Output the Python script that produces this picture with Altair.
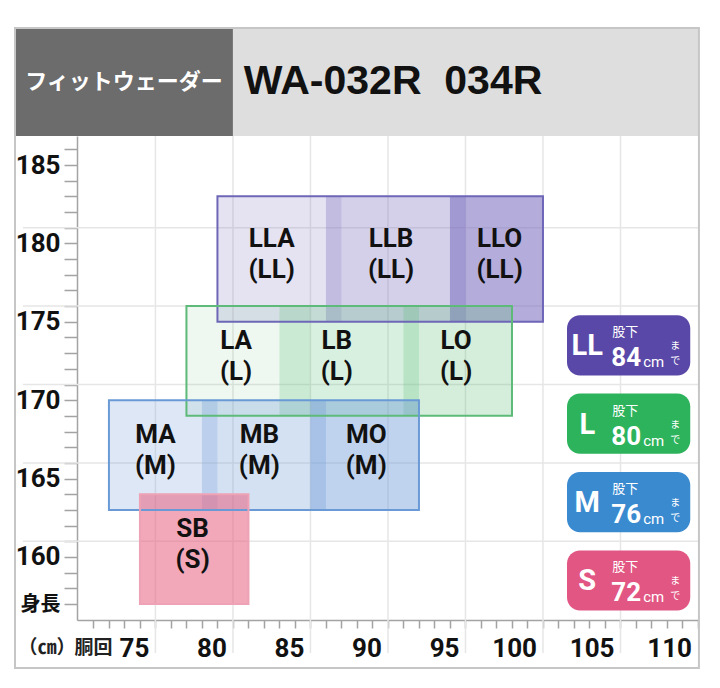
import altair as alt
import pandas as pd

# ---------------- data ----------------
GROUPS = ["LL", "L", "M", "S"]
GROUP_WAIST_MIN = [80, 78, 73, 75]
GROUP_WAIST_MAX = [101, 99, 93, 82]
GROUP_HEIGHT_MIN = [175, 169, 163, 157]
GROUP_HEIGHT_MAX = [183, 176, 170, 164]

CELLS = ["LLA", "LLB", "LLO", "LA", "LB", "LO", "MA", "MB", "MO", "SB"]
CELL_GROUP = ["LL", "LL", "LL", "L", "L", "L", "M", "M", "M", "S"]
CELL_WAIST_MIN = [80, 87, 95, 78, 84, 92, 73, 79, 86, 75]
CELL_WAIST_MAX = [88, 96, 101, 86, 93, 99, 80, 87, 93, 82]
CELL_LABEL_WAIST = [83.5, 91.2, 98.2, 81.2, 87.7, 95.4, 76.0, 82.7, 89.6, 78.4]

BADGE_SIZES = ["LL", "L", "M", "S"]
BADGE_INSEAM = [84, 80, 76, 72]

X_LABELS = [75, 80, 85, 90, 95, 100, 105, 110]
Y_LABELS = [160, 165, 170, 175, 180, 185]
Y_NAME_TICK = 157  # where the 身長 label sits
GRID_X = [76, 81, 86, 91, 96, 101, 106]
GRID_Y = [161, 166, 171, 176, 181]

HEADER_LEFT = "フィットウェーダー"
HEADER_RIGHT = "WA-032R\u00a0\u00a0034R"

# ---------------- layout / style ----------------
X_DOMAIN = [70.94, 111.0]
Y_DOMAIN = [155.98, 186.85]
FRAME = dict(x=66.94, x2=111.06, y=152.92, y2=193.74)
HEADER_SPLIT = 81.0
GRID_LEFT = 67.45
GRID_BOTTOM = 153.88
BADGE_X = (102.55, 110.5)
BADGE_CX = 106.5
BADGE_TOP_CENTER = 173.5
BADGE_STEP = 5.0
BADGE_HALF_H = 1.92

NARROW = "Roboto, DejaVu Sans Condensed, Noto Sans CJK JP, sans-serif"
CJK = "Noto Sans CJK JP, sans-serif"
WIDE = "Liberation Sans, Arial, Noto Sans, sans-serif"

GROUP_STROKE = {"LL": "#6e67b8", "L": "#5dba78", "M": "#6a9ad6", "S": "#eda2b5"}
GROUP_FILL = {"LL": "#7b6fc0", "L": "#5cbf78", "M": "#6f9bd8", "S": "#e8607f"}
CELL_OPACITY = {"LLA": 0.2, "LLB": 0.33, "LLO": 0.57, "LA": 0.1, "LB": 0.24, "LO": 0.26,
                "MA": 0.24, "MB": 0.3, "MO": 0.44, "SB": 0.55}
BADGE_FILL = {"LL": "#5a48a8", "L": "#2db35c", "M": "#3a8ad0", "S": "#e25683"}
GRID_COLOR = "#e6e6e6"
AXIS_COLOR = "#a3a3a3"

XS = alt.Scale(domain=X_DOMAIN, nice=False, zero=False)
YS = alt.Scale(domain=Y_DOMAIN, nice=False, zero=False)

XAXIS = alt.Axis(
    values=list(range(72, 112)),
    labelExpr="datum.value % 5 == 0 ? datum.label : ''",
    title=None, grid=False, tickSize=8, tickColor=AXIS_COLOR, tickWidth=1.5,
    domainColor=AXIS_COLOR, domainWidth=1.5,
    labelFont=NARROW, labelFontSize=26, labelFontWeight="bold", labelColor="#111111",
    labelAlign="right", labelOffset=9, labelPadding=7,
    labelFlush=False, labelOverlap=False, labelBound=False,
)
YAXIS = alt.Axis(
    values=list(range(157, 187)),
    labelExpr="datum.value == 157 ? '身長' : (datum.value % 5 == 0 ? datum.label : '')",
    labelFontSize={"condition": {"test": "datum.value == 157", "value": 20}, "value": 26},
    title=None, grid=False, tickSize=13, tickColor=AXIS_COLOR, tickWidth=1.5,
    domainColor=AXIS_COLOR, domainWidth=1.5,
    labelFont=NARROW, labelFontWeight="bold", labelColor="#111111",
    labelPadding=4, labelFlush=False, labelOverlap=False, labelBound=False,
)


def X(f):
    return alt.X(f, type="quantitative", scale=XS, axis=XAXIS)


def Y(f):
    return alt.Y(f, type="quantitative", scale=YS, axis=YAXIS)


# ---------------- tables ----------------
g_min = dict(zip(GROUPS, GROUP_HEIGHT_MIN))
g_max = dict(zip(GROUPS, GROUP_HEIGHT_MAX))

cells = pd.DataFrame({
    "name": CELLS,
    "x": CELL_WAIST_MIN,
    "x2": CELL_WAIST_MAX,
    "y": [g_min[g] for g in CELL_GROUP],
    "y2": [g_max[g] for g in CELL_GROUP],
    "fill": [GROUP_FILL[g] for g in CELL_GROUP],
    "op": [CELL_OPACITY[c] for c in CELLS],
    "label": [f"{c}\n({g})" for c, g in zip(CELLS, CELL_GROUP)],
    "lx": CELL_LABEL_WAIST,
    "ly": [(g_min[g] + g_max[g]) / 2 for g in CELL_GROUP],
})

groups = pd.DataFrame({
    "x": GROUP_WAIST_MIN, "x2": GROUP_WAIST_MAX,
    "y": GROUP_HEIGHT_MIN, "y2": GROUP_HEIGHT_MAX,
    "stroke": [GROUP_STROKE[g] for g in GROUPS],
})

vgrid = pd.DataFrame({"x": GRID_X, "y": GRID_BOTTOM, "y2": Y_DOMAIN[1]})
hgrid = pd.DataFrame({"y": GRID_Y, "x": GRID_LEFT, "x2": X_DOMAIN[1]})

header = pd.DataFrame({
    "x": [FRAME["x"], HEADER_SPLIT], "x2": [HEADER_SPLIT, FRAME["x2"]],
    "y": [Y_DOMAIN[1]] * 2, "y2": [FRAME["y2"]] * 2,
    "fill": ["#6c6c6c", "#dedede"],
})
header_mid = (Y_DOMAIN[1] + FRAME["y2"]) / 2
header_left_txt = pd.DataFrame({"x": [(FRAME["x"] + HEADER_SPLIT) / 2], "y": [header_mid], "t": [HEADER_LEFT]})
header_right_txt = pd.DataFrame({"x": [HEADER_SPLIT + 0.7], "y": [header_mid], "t": [HEADER_RIGHT]})

frame = pd.DataFrame([FRAME])

axis_words = pd.DataFrame({
    "x": [69.0, 72.0], "y": [154.2, 154.2], "t": ["（㎝）", "胴回"],
})

centers = [BADGE_TOP_CENTER - BADGE_STEP * i for i in range(len(BADGE_SIZES))]
badges = pd.DataFrame({
    "size": BADGE_SIZES,
    "num": [str(v) for v in BADGE_INSEAM],
    "x": BADGE_X[0], "x2": BADGE_X[1],
    "y": [c - BADGE_HALF_H for c in centers],
    "y2": [c + BADGE_HALF_H for c in centers],
    "cx": BADGE_CX, "cy": centers,
    "fill": [BADGE_FILL[s] for s in BADGE_SIZES],
    "k": "股下", "cm": "cm", "ma": "ま", "de": "で",
})

# ---------------- layers ----------------
l_vgrid = alt.Chart(vgrid).mark_rule(color=GRID_COLOR, strokeWidth=1.5).encode(
    x=X("x"), y=Y("y"), y2="y2")
l_hgrid = alt.Chart(hgrid).mark_rule(color=GRID_COLOR, strokeWidth=1.5).encode(
    y=Y("y"), x=X("x"), x2="x2")

l_cells = alt.Chart(cells).mark_rect(strokeWidth=0).encode(
    x=X("x"), x2="x2", y=Y("y"), y2="y2",
    color=alt.Color("fill:N", scale=None),
    fillOpacity=alt.FillOpacity("op:Q", scale=None),
)
l_groups = alt.Chart(groups).mark_rect(fillOpacity=0, strokeWidth=2).encode(
    x=X("x"), x2="x2", y=Y("y"), y2="y2",
    stroke=alt.Stroke("stroke:N", scale=None),
)
l_labels = alt.Chart(cells).mark_text(
    lineBreak="\n", lineHeight=31, font=NARROW, fontSize=26, fontWeight="bold",
    color="#111111", align="center", baseline="middle", dy=-20,
).encode(x=X("lx"), y=Y("ly"), text="label:N")

l_header = alt.Chart(header).mark_rect(strokeWidth=0).encode(
    x=X("x"), x2="x2", y=Y("y"), y2="y2", color=alt.Color("fill:N", scale=None))
l_h1 = alt.Chart(header_left_txt).mark_text(
    font=CJK, fontSize=22, fontWeight="bold", color="white", align="center", baseline="middle"
).encode(x=X("x"), y=Y("y"), text="t:N")
l_h2 = alt.Chart(header_right_txt).mark_text(
    font=WIDE, fontSize=41, fontWeight="bold", color="#111111", align="left", baseline="middle"
).encode(x=X("x"), y=Y("y"), text="t:N")

l_frame = alt.Chart(frame).mark_rect(fillOpacity=0, stroke="#c6c6c6", strokeWidth=2).encode(
    x=X("x"), x2="x2", y=Y("y"), y2="y2")

l_axis_words = alt.Chart(axis_words).mark_text(
    font=CJK, fontSize=19, fontWeight="bold", color="#222222", align="center", baseline="middle"
).encode(x=X("x"), y=Y("y"), text="t:N")

l_badges = alt.Chart(badges).mark_rect(cornerRadius=13).encode(
    x=X("x"), x2="x2", y=Y("y"), y2="y2", color=alt.Color("fill:N", scale=None))
l_b_letter = alt.Chart(badges).mark_text(
    font=NARROW, fontSize=29, fontWeight="bold", color="white", align="center", baseline="middle", dx=-41, dy=1
).encode(x=X("cx"), y=Y("cy"), text="size:N")
l_b_k = alt.Chart(badges).mark_text(
    font=CJK, fontSize=13, color="white", align="left", baseline="middle", dx=-16, dy=-13
).encode(x=X("cx"), y=Y("cy"), text="k:N")
l_b_num = alt.Chart(badges).mark_text(
    font=NARROW, fontSize=26, fontWeight="bold", color="white", align="left", baseline="middle", dx=-17, dy=13
).encode(x=X("cx"), y=Y("cy"), text="num:N")
l_b_cm = alt.Chart(badges).mark_text(
    font=NARROW, fontSize=15, color="white", align="left", baseline="alphabetic", dx=15, dy=22
).encode(x=X("cx"), y=Y("cy"), text="cm:N")
l_b_ma = alt.Chart(badges).mark_text(
    font=CJK, fontSize=10, color="white", align="center", baseline="middle", dx=47, dy=1
).encode(x=X("cx"), y=Y("cy"), text="ma:N")
l_b_de = alt.Chart(badges).mark_text(
    font=CJK, fontSize=10, color="white", align="center", baseline="middle", dx=47, dy=16
).encode(x=X("cx"), y=Y("cy"), text="de:N")

chart = alt.layer(
    l_vgrid, l_hgrid, l_cells, l_groups, l_labels,
    l_header, l_h1, l_h2, l_frame, l_axis_words,
    l_badges, l_b_letter, l_b_k, l_b_num, l_b_cm, l_b_ma, l_b_de,
).properties(
    width=621, height=484,
    padding={"left": 69, "top": 128, "right": 14, "bottom": 60},
    autosize=alt.AutoSizeParams(type="none"),
).configure_view(stroke=None)

chart.save("out.html", embed_options={"renderer": "svg", "actions": False})
